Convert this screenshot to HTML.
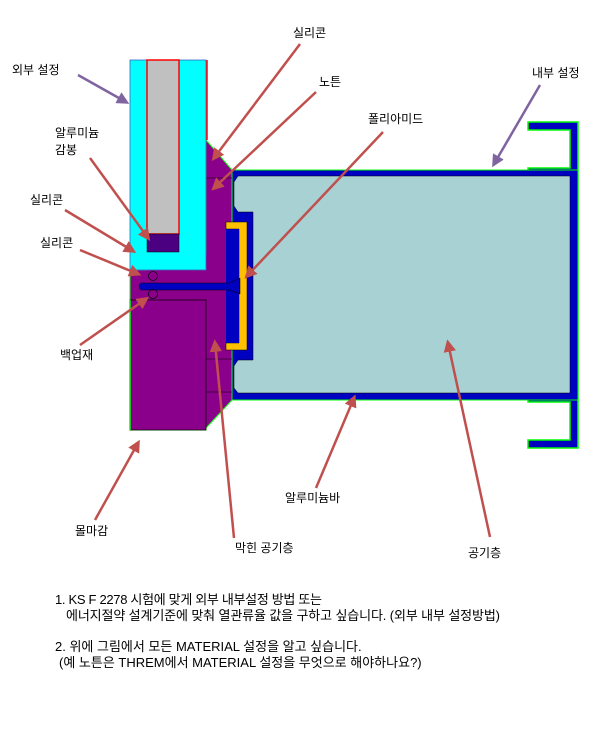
<!DOCTYPE html>
<html><head><meta charset="utf-8"><style>
body{margin:0;background:#fff;}
svg{display:block;}
text{font-family:"Liberation Sans","Noto Sans CJK KR",sans-serif;font-size:12px;fill:#000;}
.t{font-size:13px;}
</style></head><body>
<svg width="601" height="732" viewBox="0 0 601 732" xmlns="http://www.w3.org/2000/svg">
<defs>
<marker id="ar" viewBox="0 0 10 10" refX="7" refY="5" markerWidth="5" markerHeight="5" orient="auto" markerUnits="strokeWidth"><path d="M0,0 L10,5 L0,10 z" fill="#c0504d"/></marker>
<marker id="ap" viewBox="0 0 10 10" refX="7" refY="5" markerWidth="5" markerHeight="5" orient="auto" markerUnits="strokeWidth"><path d="M0,0 L10,5 L0,10 z" fill="#8064a2"/></marker>
</defs>
<path d="M528,122 L578,122 L578,448 L528,448 L528,440 L570,440 L570,402 L528,402 L528,393 L570,393 L570,176 L528,176 L528,168 L570,168 L570,130 L528,130 Z" fill="#0000c0" stroke="#00ff00" stroke-width="1.5"/>
<path d="M226,170 L578,170 L578,400 L226,400 Z" fill="#0000c0" stroke="#00ff00" stroke-width="1"/>
<path d="M238,176 L570,176 L570,393 L238,393 L234,388 L234,366 L238,360 L253,360 L253,212 L238,212 L234,206 L234,182 Z" fill="#a8d1d4" stroke="#000" stroke-width="0.5"/>
<path d="M206,140 L232,170 L232,400 L206,428 L206,430 L130,430 L130,270 L147,270 L147,252 L206,252 Z" fill="#8b008b" stroke="#00ff00" stroke-width="1"/>
<rect x="130" y="300" width="76" height="130" fill="#8b008b" stroke="#000" stroke-width="0.7"/>
<line x1="206" y1="178" x2="232" y2="178" stroke="#000" stroke-width="0.6"/>
<line x1="206" y1="359" x2="232" y2="359" stroke="#000" stroke-width="0.6"/>
<line x1="206" y1="392" x2="232" y2="392" stroke="#000" stroke-width="0.6"/>
<rect x="130" y="60" width="76" height="210" fill="#00ffff" stroke="#4060c0" stroke-width="0.8"/>
<rect x="147" y="60" width="32" height="174" fill="#c0c0c0" stroke="#ff0000" stroke-width="1.5"/>
<line x1="207" y1="60" x2="207" y2="140" stroke="#ff0000" stroke-width="1.5"/>
<rect x="147" y="234" width="32" height="18" fill="#4b0082" stroke="#000" stroke-width="0.5"/>
<path d="M226,222 L247,222 L247,350 L226,350 L226,343 L239,343 L239,229 L226,229 Z" fill="#ffc000" stroke="#000" stroke-width="0.5"/>
<path d="M226,229 L239,229 L239,343 L226,343 Z" fill="#0000c0"/>
<path d="M141,283 L230,283 L240,278 L240,294 L230,290 L141,290 Q137,286.5 141,283 Z" fill="#0000c0" stroke="#000" stroke-width="0.5"/>
<circle cx="153" cy="276" r="4.5" fill="none" stroke="#000" stroke-width="0.7"/>
<circle cx="153" cy="294" r="4.5" fill="none" stroke="#000" stroke-width="0.7"/>
<line x1="130" y1="300" x2="130" y2="430" stroke="#00ff00" stroke-width="1.5"/>
<g stroke="#c0504d" stroke-width="2.5" fill="none" marker-end="url(#ar)">
<line x1="300" y1="44" x2="214" y2="158"/>
<line x1="316" y1="92" x2="214" y2="188"/>
<line x1="383" y1="132" x2="247" y2="276"/>
<line x1="90" y1="158" x2="148" y2="238"/>
<line x1="65" y1="210" x2="133" y2="251"/>
<line x1="80" y1="250" x2="138" y2="274"/>
<line x1="80" y1="345" x2="146" y2="299"/>
<line x1="95" y1="520" x2="138" y2="443"/>
<line x1="234" y1="538" x2="215" y2="343"/>
<line x1="316" y1="488" x2="354" y2="398"/>
<line x1="490" y1="537" x2="448" y2="343"/>
</g>
<g stroke="#8064a2" stroke-width="2.5" fill="none" marker-end="url(#ap)">
<line x1="78" y1="75" x2="126" y2="102"/>
<line x1="540" y1="85" x2="494" y2="164"/>
</g>
<text x="12" y="74">외부 설정</text>
<text x="293" y="37">실리콘</text>
<text x="319" y="86">노튼</text>
<text x="368" y="123">폴리아미드</text>
<text x="532" y="77">내부 설정</text>
<text x="55" y="137">알루미늄</text>
<text x="55" y="154">감봉</text>
<text x="30" y="204">실리콘</text>
<text x="40" y="247">실리콘</text>
<text x="60" y="359">백업재</text>
<text x="75" y="535">몰마감</text>
<text x="235" y="552">막힌 공기층</text>
<text x="285" y="502">알루미늄바</text>
<text x="468" y="557">공기층</text>
<text class="t" x="55" y="604" textLength="267">1. KS F 2278 시험에 맞게 외부 내부설정 방법 또는</text>
<text class="t" x="66" y="620" textLength="434">에너지절약 설계기준에 맞춰 열관류율 값을 구하고 싶습니다. (외부 내부 설정방법)</text>
<text class="t" x="55" y="651">2. 위에 그림에서 모든 MATERIAL 설정을 알고 싶습니다.</text>
<text class="t" x="59" y="667">(예 노튼은 THREM에서 MATERIAL 설정을 무엇으로 해야하나요?)</text>
</svg>
</body></html>
